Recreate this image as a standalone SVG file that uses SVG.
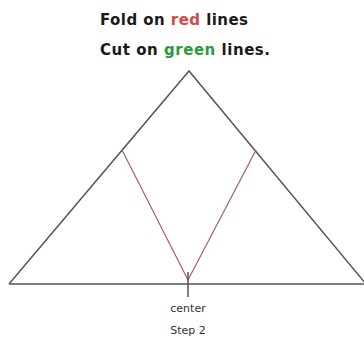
<svg xmlns="http://www.w3.org/2000/svg" width="364" height="337" viewBox="0 0 364 337">
<style>
.t{font-family:"Comic Sans MS","DejaVu Sans",sans-serif;font-weight:bold;fill:#1a1a1a}
.s{font-family:"Comic Sans MS","DejaVu Sans",sans-serif;fill:#333}
.edge{stroke:#555;stroke-width:1.5;fill:none}
.fold{stroke:#a06060;stroke-width:1.2;fill:none}
</style>
<rect width="364" height="337" fill="#fff"/>
<g id="title">
<text class="t" x="100" y="25" font-size="15" textLength="148">Fold on <tspan fill="#d04a4a">red</tspan> lines</text>
<text class="t" x="100" y="55" font-size="15" textLength="170">Cut on <tspan fill="#2e9a40">green</tspan> lines.</text>
</g>
<g id="connectors">
<path class="edge" d="M9,284 L189,71 L366,284"/>
<path class="edge" d="M9,284 L364,284"/>
<path class="fold" d="M122,150 L188,280 L256,150"/>
<path class="edge" d="M188,272 L188,297"/>
</g>
<g id="labels">
<text class="s" x="188" y="312" font-size="11" text-anchor="middle">center</text>
<text class="s" x="188" y="334" font-size="11" text-anchor="middle">Step 2</text>
</g>
</svg>
